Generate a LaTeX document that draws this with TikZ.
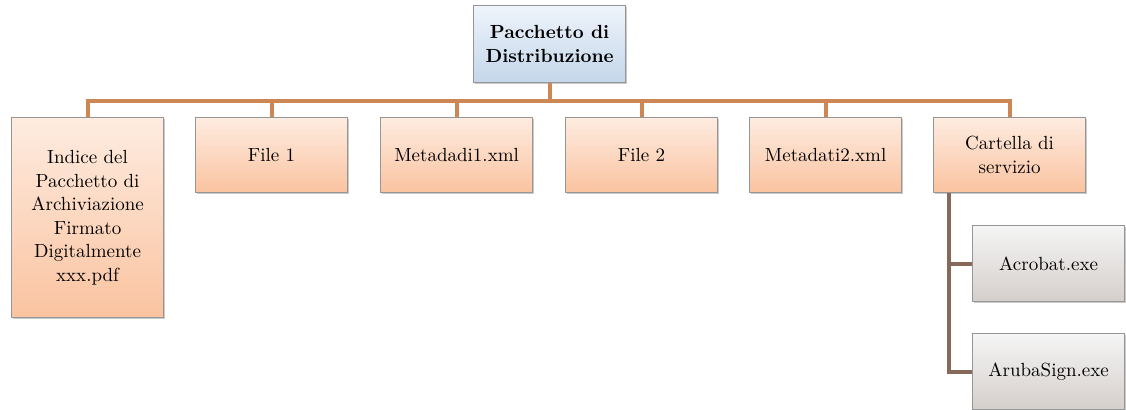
\documentclass[tikz,border=0pt]{standalone}
\usepackage{tikz}
\usetikzlibrary{calc,shadows}

\definecolor{busorange}{RGB}{205,135,85}
\definecolor{subbrown}{RGB}{135,105,90}
\definecolor{boxedge}{RGB}{150,150,150}

\tikzset{
  box/.style={draw=boxedge, line width=0.6pt, anchor=north west, align=center,
    inner sep=0pt, font=\fontsize{9.5}{11.75}\selectfont,
    drop shadow={shadow xshift=0.8pt, shadow yshift=-0.8pt, opacity=0.35, fill=black!60}},
  peach/.style={box, top color={rgb,255:red,254;green,236;blue,224}, bottom color={rgb,255:red,250;green,195;blue,160}},
  greybox/.style={box, top color=black!4, bottom color={rgb,255:red,213;green,207;blue,204}},
  bluebox/.style={box, top color={rgb,255:red,238;green,244;blue,251}, bottom color={rgb,255:red,196;green,214;blue,234}},
  bus/.style={busorange, line width=2pt},
  sub/.style={subbrown, line width=2pt}
}

\begin{document}
\begin{tikzpicture}[x=0.5pt,y=-0.5pt]

\useasboundingbox (0,0) rectangle (1126,410);

\node[bluebox, minimum width=76pt, minimum height=38.5pt, font=\fontsize{9.5}{11.75}\selectfont\bfseries] (top) at (473,5) {Pacchetto di\\Distribuzione};

\node[peach, minimum width=76pt, minimum height=100pt] (c1) at (11,117) {Indice del\\Pacchetto di\\Archiviazione\\Firmato\\Digitalmente\\xxx.pdf};
\node[peach, minimum width=76pt, minimum height=37.5pt] (c2) at (195,117) {File 1};
\node[peach, minimum width=76pt, minimum height=37.5pt] (c3) at (380,117) {Metadadi1.xml};
\node[peach, minimum width=76pt, minimum height=37.5pt] (c4) at (565,117) {File 2};
\node[peach, minimum width=76pt, minimum height=37.5pt] (c5) at (749,117) {Metadati2.xml};
\node[peach, minimum width=76pt, minimum height=37.5pt] (c6) at (933,117) {Cartella di\\servizio};

\node[greybox, minimum width=76pt, minimum height=38pt] (g1) at (972,225) {Acrobat.exe};
\node[greybox, minimum width=76pt, minimum height=38pt] (g2) at (972,333) {ArubaSign.exe};

\foreach \c in {c1,c2,c3,c4,c5,c6}
  \draw[bus] (top.south) -- ++(0,18) -| (\c.north);

\draw[sub] ($(c6.south west)+(16,0)$) |- (g1.west);
\draw[sub] ($(c6.south west)+(16,0)$) |- (g2.west);

\end{tikzpicture}
\end{document}
